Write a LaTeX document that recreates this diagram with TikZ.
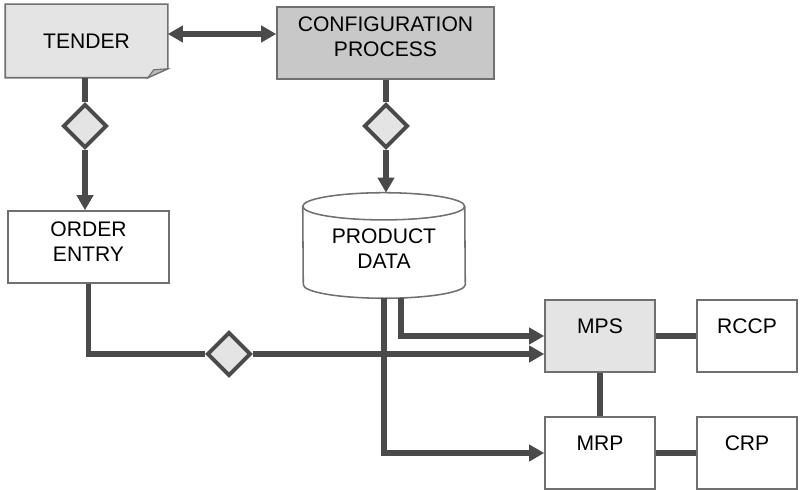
\documentclass[tikz,border=0pt]{standalone}
\usepackage{fontspec}
\setmainfont{Liberation Sans}
\usepackage{xcolor}
\definecolor{ink}{RGB}{74,74,74}
\definecolor{frameline}{RGB}{112,112,112}
\definecolor{paper}{RGB}{228,228,228}
\definecolor{shade}{RGB}{200,200,200}
\definecolor{curl}{RGB}{185,185,185}
\usetikzlibrary{arrows.meta,positioning,calc,backgrounds,shapes.geometric}

\begin{document}
\begin{tikzpicture}[
  font=\fontsize{15}{18}\selectfont,
  box/.style={rectangle,draw=frameline,line width=1.1pt,fill=white,
              minimum height=1.8cm,align=center,inner sep=0pt},
  toptext/.style={text height=0.4cm,text depth=0.54cm},
  twoline/.style={text height=0.8cm,text depth=0.1cm},
  gate/.style={diamond,draw=ink,line width=2.8pt,fill=paper,
               minimum width=1.1cm,minimum height=1.1cm,inner sep=0pt},
  link/.style={draw=ink,line width=4pt},
  arrowend/.style={-{Triangle[length=0.375cm,width=0.4cm]}},
]
  \useasboundingbox (0,0) rectangle (20.125,12.25);

  \node[box,draw=none,fill=none,minimum width=4.025cm](T) at (2.1625,11.225) {TENDER};
  \node[box,twoline,fill=shade,minimum width=5.425cm](C) at (9.6375,11.175) {CONFIGURATION\\PROCESS};
  \node[box,twoline,text height=0.85cm,minimum width=4.025cm](OE) at (2.2125,6.075) {ORDER\\ENTRY};
  \node[align=center,text height=1.25cm,text depth=0.1cm,
        minimum width=4.05cm,minimum height=2.625cm](PD) at (9.6,6.1125) {PRODUCT\\DATA};

  \node[box,toptext,fill=paper,minimum width=2.75cm](MPS) at (15.0,3.85) {MPS};
  \node[box,toptext,minimum width=2.5cm](RCCP) at (18.675,3.85) {RCCP};
  \node[box,toptext,minimum width=2.75cm](MRP) at (15.0,0.925) {MRP};
  \node[box,toptext,minimum width=2.5cm](CRP) at (18.675,0.925) {CRP};

  \node[gate](D1) at (2.125,9.1) {};
  \node[gate](D2) at (9.65,9.1) {};
  \node[gate](D3) at (5.725,3.4) {};

  % tender sheet with folded corner, and the data store
  \begin{scope}[on background layer]
    \draw[frameline,line width=1.1pt,fill=paper]
      (T.north west) -- (T.north east) -- ([yshift=0.225cm]T.south east)
      -- ([xshift=-0.5cm]T.south east) -- (T.south west) -- cycle;
    \draw[frameline,line width=0.8pt,fill=curl]
      ([xshift=-0.5cm]T.south east) -- ([xshift=-0.35cm,yshift=0.2cm]T.south east)
      -- ([yshift=0.225cm]T.south east) -- cycle;
    \draw[frameline,line width=1.1pt,fill=white]
      ([yshift=-0.34cm]PD.north west)
      arc[start angle=180,end angle=0,x radius=2.025cm,y radius=0.34cm]
      -- ([yshift=0.34cm]PD.south east)
      arc[start angle=0,end angle=-180,x radius=2.025cm,y radius=0.34cm] -- cycle;
    \draw[frameline,line width=1.1pt] ([yshift=-0.34cm]PD.north west)
      arc[start angle=180,end angle=360,x radius=2.025cm,y radius=0.34cm];
  \end{scope}

  \draw[link,{Triangle[length=0.375cm,width=0.4cm]}-{Triangle[length=0.375cm,width=0.4cm]}]
    ([yshift=0.175cm]T.east) -- ([yshift=0.175cm]T.east -| C.west);

  \draw[link] (T.south -| D1) -- (D1.north);
  \draw[link,arrowend] (D1.south) -- (D1.south |- OE.north);
  \draw[link] (C.south -| D2) -- (D2.north);
  \draw[link,arrowend] (D2.south) -- (D2.south |- PD.north);

  \draw[link] (OE.south) |- (D3.west);
  \draw[link,arrowend] (D3.east) -- (D3.east -| MPS.west);
  \draw[link,arrowend] ([xshift=0.425cm]PD.south) |- (MPS.west);
  \draw[link,arrowend] (PD.south) |- (MRP.west);

  \foreach \a/\b in {MPS/RCCP,MRP/CRP}{%
    \draw[link] (\a.east) -- (\b.west);}
  \draw[link] (MPS.south) -- (MRP.north);
\end{tikzpicture}
\end{document}
